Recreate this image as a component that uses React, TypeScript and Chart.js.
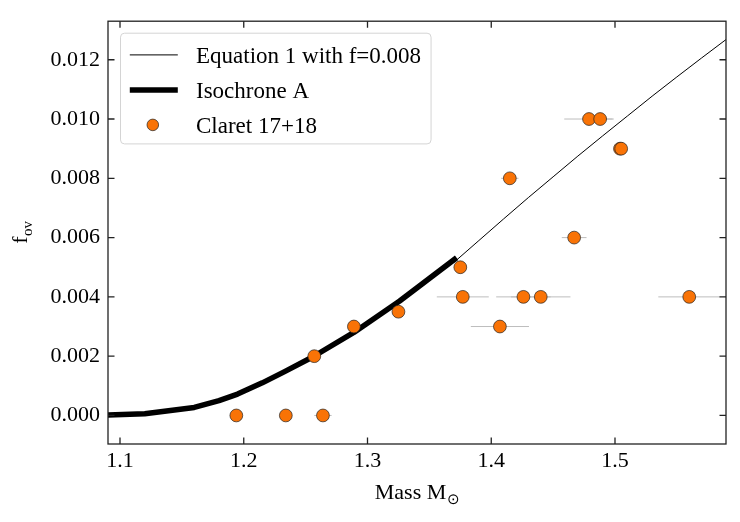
import React, { useEffect, useRef } from "react";
import { Chart, registerables } from "chart.js";

Chart.register(...registerables);

// ---------------- data ----------------
const xTicks = [1.1, 1.2, 1.3, 1.4, 1.5];
const yTicks = [0, 0.002, 0.004, 0.006, 0.008, 0.01, 0.012];

const eqLabel = "Equation 1 with f=0.008";
const eqMass = [1.37, 1.39, 1.41, 1.43, 1.45, 1.47, 1.49, 1.51, 1.53, 1.55, 1.57, 1.59];
const eqF = [0.00517, 0.0059, 0.00663, 0.00735, 0.00805, 0.00875, 0.00943, 0.0101, 0.01077, 0.01142, 0.01206, 0.01269];

const isoLabel = "Isochrone A";
const isoMass = [1.08, 1.12, 1.16, 1.18, 1.195, 1.215, 1.233, 1.256, 1.289, 1.326, 1.372];
const isoF = [0.0, 0.00006, 0.00027, 0.0005, 0.00072, 0.0011, 0.00148, 0.00198, 0.0028, 0.00386, 0.00532];

const claretLabel = "Claret 17+18";
const claretMass = [1.194, 1.234, 1.264, 1.257, 1.289, 1.325, 1.375, 1.377, 1.407, 1.415, 1.426, 1.44, 1.467, 1.479, 1.488, 1.504, 1.505, 1.56];
const claretF = [0, 0, 0, 0.002, 0.003, 0.0035, 0.005, 0.004, 0.003, 0.008, 0.004, 0.004, 0.006, 0.01, 0.01, 0.009, 0.009, 0.004];
const claretErr = [0.003, 0.003, 0.007, 0.003, 0.004, 0.004, 0.003, 0.021, 0.0235, 0.007, 0.022, 0.024, 0.01, 0.02, 0.01, 0.003, 0.003, 0.025];

const xTitle = "Mass M";
const xTitleSub = "\u2299";
const yTitle = "f";
const yTitleSub = "ov";

const FONT = "'Liberation Serif', 'Times New Roman', serif";
const ORANGE = "#f97306";

// ---------------- plugin: matplotlib-like frame, ticks, legend, titles ----------------
const mplPlugin = {
  id: "mplDecor",
  afterDatasetsDraw(chart: any) {
    const ctx = chart.ctx;
    const ca = chart.chartArea;
    const xs = chart.scales.x;
    const ys = chart.scales.y;
    ctx.save();
    // frame
    ctx.strokeStyle = "#222";
    ctx.lineWidth = 1.3;
    ctx.strokeRect(ca.left, ca.top, ca.right - ca.left, ca.bottom - ca.top);
    // inward ticks on all sides
    const tl = 6.5;
    ctx.beginPath();
    xs.ticks.forEach((t: any) => {
      const px = xs.getPixelForValue(t.value);
      ctx.moveTo(px, ca.bottom);
      ctx.lineTo(px, ca.bottom - tl);
      ctx.moveTo(px, ca.top);
      ctx.lineTo(px, ca.top + tl);
    });
    ys.ticks.forEach((t: any) => {
      const py = ys.getPixelForValue(t.value);
      ctx.moveTo(ca.left, py);
      ctx.lineTo(ca.left + tl, py);
      ctx.moveTo(ca.right, py);
      ctx.lineTo(ca.right - tl, py);
    });
    ctx.stroke();

    // legend
    const entries = chart.data.datasets.filter((d: any) => d.label);
    ctx.font = `23px ${FONT}`;
    let maxW = 0;
    entries.forEach((d: any) => {
      maxW = Math.max(maxW, ctx.measureText(d.label).width);
    });
    const left = ca.left + 12.5;
    const top = ca.top + 12;
    const textX = left + 75.5;
    const w = textX - left + maxW + 10;
    const h = 110.7;
    ctx.beginPath();
    const r = 4;
    ctx.moveTo(left + r, top);
    ctx.arcTo(left + w, top, left + w, top + h, r);
    ctx.arcTo(left + w, top + h, left, top + h, r);
    ctx.arcTo(left, top + h, left, top, r);
    ctx.arcTo(left, top, left + w, top, r);
    ctx.closePath();
    ctx.fillStyle = "rgba(255,255,255,0.85)";
    ctx.fill();
    ctx.strokeStyle = "#d4d4d4";
    ctx.lineWidth = 1;
    ctx.stroke();
    entries.forEach((d: any, i: number) => {
      const ry = top + 21.7 + i * 35;
      if (d.showLine === false || d.type === "scatter") {
        ctx.beginPath();
        ctx.arc(left + 32.3, ry, 5.8, 0, Math.PI * 2);
        ctx.fillStyle = d.backgroundColor;
        ctx.fill();
        ctx.strokeStyle = d.borderColor;
        ctx.lineWidth = d.borderWidth;
        ctx.stroke();
      } else {
        ctx.beginPath();
        ctx.moveTo(left + 9.3, ry);
        ctx.lineTo(left + 57.3, ry);
        ctx.strokeStyle = d.borderColor;
        ctx.lineWidth = d.borderWidth;
        ctx.stroke();
      }
      ctx.fillStyle = "#000";
      ctx.textAlign = "left";
      ctx.textBaseline = "alphabetic";
      ctx.fillText(d.label, textX, ry + 7.8);
    });
    ctx.restore();
  },
  afterDraw(chart: any) {
    const ctx = chart.ctx;
    const ca = chart.chartArea;
    ctx.save();
    ctx.fillStyle = "#000";
    ctx.textBaseline = "alphabetic";
    // x title
    ctx.font = `22px ${FONT}`;
    const mainW = ctx.measureText(xTitle).width;
    ctx.font = `15px ${FONT}`;
    const subW = ctx.measureText(xTitleSub).width;
    const cx = (ca.left + ca.right) / 2;
    const x0 = cx - (mainW + subW) / 2;
    const base = 499;
    ctx.font = `22px ${FONT}`;
    ctx.textAlign = "left";
    ctx.fillText(xTitle, x0, base);
    ctx.font = `15px ${FONT}`;
    ctx.fillText(xTitleSub, x0 + mainW + 0.5, base + 5);
    // y title (rotated)
    ctx.translate(27, (ca.top + ca.bottom) / 2);
    ctx.rotate(-Math.PI / 2);
    ctx.font = `22px ${FONT}`;
    const fW = ctx.measureText(yTitle).width;
    ctx.font = `15px ${FONT}`;
    const ovW = ctx.measureText(yTitleSub).width;
    const y0 = -(fW + ovW) / 2;
    ctx.font = `22px ${FONT}`;
    ctx.fillText(yTitle, y0, 0);
    ctx.font = `15px ${FONT}`;
    ctx.fillText(yTitleSub, y0 + fW + 0.5, 5);
    ctx.restore();
  },
};

export default function App() {
  const ref = useRef<HTMLCanvasElement | null>(null);

  useEffect(() => {
    if (!ref.current) return;

    const errData: any[] = [];
    claretMass.forEach((m, i) => {
      errData.push({ x: m - claretErr[i], y: claretF[i] });
      errData.push({ x: m + claretErr[i], y: claretF[i] });
      errData.push({ x: m, y: null });
    });

    const chart = new Chart(ref.current, {
      type: "scatter",
      data: {
        datasets: [
          {
            type: "line",
            label: eqLabel,
            data: eqMass.map((m, i) => ({ x: m, y: eqF[i] })),
            borderColor: "#000",
            borderWidth: 1,
            pointRadius: 0,
            fill: false,
            tension: 0,
            order: 3,
          } as any,
          {
            type: "line",
            label: isoLabel,
            data: isoMass.map((m, i) => ({ x: m, y: isoF[i] })),
            borderColor: "#000",
            borderWidth: 5.5,
            borderJoinStyle: "round",
            borderCapStyle: "butt",
            pointRadius: 0,
            fill: false,
            tension: 0,
            order: 2,
          } as any,
          {
            type: "scatter",
            label: claretLabel,
            data: claretMass.map((m, i) => ({ x: m, y: claretF[i] })),
            backgroundColor: ORANGE,
            borderColor: "#222",
            borderWidth: 0.7,
            pointRadius: 6.4,
            showLine: false,
            order: 0,
          } as any,
          {
            type: "line",
            label: "",
            data: errData,
            borderColor: "#bdbdbd",
            borderWidth: 1,
            pointRadius: 0,
            spanGaps: false,
            fill: false,
            order: 4,
          } as any,
        ],
      },
      options: {
        animation: false,
        responsive: false,
        devicePixelRatio: 1,
        layout: { padding: { top: 13, right: 14, left: 0, bottom: 0 } },
        plugins: {
          legend: { display: false },
          tooltip: { enabled: false },
        },
        scales: {
          x: {
            type: "linear",
            min: 1.0903,
            max: 1.5897,
            grid: { display: false, drawTicks: false },
            border: { display: false },
            afterFit: (s: any) => {
              s.height = 78;
            },
            afterBuildTicks: (s: any) => {
              s.ticks = xTicks.map((v) => ({ value: v }));
            },
            ticks: {
              padding: 4,
              color: "#000",
              font: { family: FONT, size: 22 },
              callback: (v: any) => Number(v).toFixed(1),
            },
          },
          y: {
            type: "linear",
            min: -0.000963,
            max: 0.0133,
            grid: { display: false, drawTicks: false },
            border: { display: false },
            afterFit: (s: any) => {
              s.width = 108;
            },
            afterBuildTicks: (s: any) => {
              s.ticks = yTicks.map((v) => ({ value: v }));
            },
            ticks: {
              padding: 8,
              color: "#000",
              font: { family: FONT, size: 22 },
              callback: (v: any) => Number(v).toFixed(3),
            },
          },
        },
      },
      plugins: [mplPlugin],
    });

    return () => chart.destroy();
  }, []);

  return (
    <div style={{ position: "fixed", left: 0, top: 0, width: 740, height: 522, background: "#fff" }}>
      <canvas ref={ref} width={740} height={522} style={{ display: "block", width: 740, height: 522 }} />
    </div>
  );
}
